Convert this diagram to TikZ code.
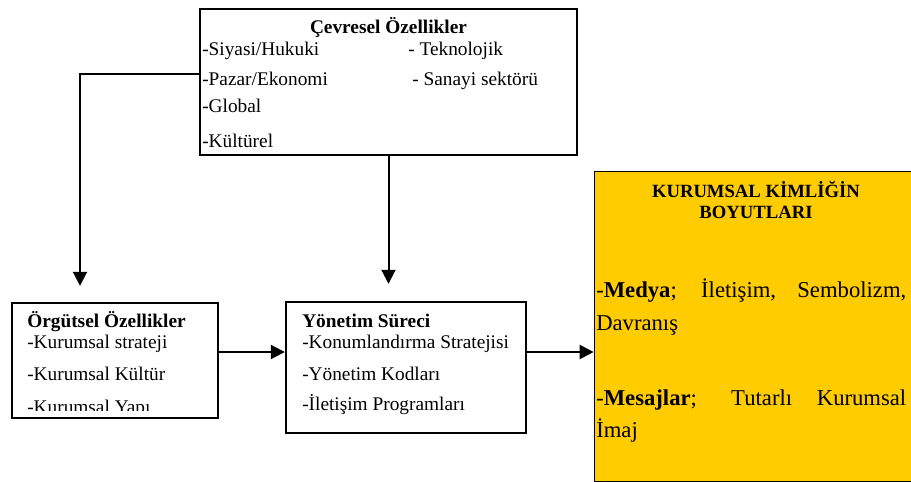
\documentclass[tikz,border=0pt]{standalone}
\usepackage{fontspec}
\setmainfont{Liberation Serif}
\usetikzlibrary{arrows.meta}
\definecolor{sari}{RGB}{255,204,0}
\tikzset{
  kutu/.style={draw, line width=1.8pt, inner sep=0pt},
  yazi/.style={inner sep=0pt, anchor=base west, font=\fontsize{14.5}{17}\selectfont},
  baslik/.style={yazi, font=\fontsize{14.5}{17}\selectfont\bfseries},
  govde/.style={yazi, font=\fontsize{17}{20}\selectfont},
  ok/.style={line width=1.5pt, -{Triangle[length=10.5pt,width=10.5pt]}},
}
\begin{document}
\begin{tikzpicture}[x=0.75pt,y=-0.75pt]
\useasboundingbox (0,0) rectangle (911,482);
% Kutular
\node[kutu, line width=2.2pt, minimum width=282.75pt, minimum height=109.5pt] (cevre) at (388.5,82) {};
\node[kutu, minimum width=154.5pt, minimum height=86.25pt] (orgut) at (115,360.5) {};
\node[kutu, minimum width=180pt, minimum height=98.25pt] (yonetim) at (406,367.5) {};
\node[kutu, fill=sari, line width=0.5pt, minimum width=244.5pt, minimum height=232.5pt] (kimlik) at (757,326) {};

% Cevresel ozellikler
\node[baslik, anchor=base] (cevreB) at (388.5,33) {Çevresel Özellikler};
\node[yazi] (c1) at (202,55) {-Siyasi/Hukuki};
\node[yazi] (c2) at (408,55) {- Teknolojik};
\node[yazi] (c3) at (202,85) {-Pazar/Ekonomi};
\node[yazi] (c4) at (412,85) {- Sanayi sektörü};
\node[yazi] (c5) at (202,112) {-Global};
\node[yazi] (c6) at (202,147) {-Kültürel};

% Orgutsel ozellikler
\node[baslik] (orgutB) at (27,327) {Örgütsel Özellikler};
\node[yazi] (o1) at (27,348) {-Kurumsal strateji};
\node[yazi] (o2) at (27,380) {-Kurumsal Kültür};
\begin{scope}
  \clip (12,303) rectangle (218,410);
  \node[yazi] (o3) at (27,413) {-Kurumsal Yapı};
\end{scope}

% Yonetim sureci
\node[baslik] (yonetimB) at (302,327) {Yönetim Süreci};
\node[yazi] (y1) at (302,348) {-Konumlandırma Stratejisi};
\node[yazi] (y2) at (302,380) {-Yönetim Kodları};
\node[yazi] (y3) at (302,410) {-İletişim Programları};

% Kurumsal kimlik
\node[baslik, anchor=base, font=\fontsize{14}{16}\selectfont\bfseries] (kimlikB1) at (756,197) {KURUMSAL KİMLİĞİN};
\node[baslik, anchor=base, font=\fontsize{14}{16}\selectfont\bfseries] (kimlikB2) at (756,218) {BOYUTLARI};
\node[govde] (m1) at (596,297) {\makebox[232.5pt][s]{-\textbf{Medya}; İletişim, Sembolizm,}};
\node[govde] (m2) at (596,330) {Davranış};
\node[govde] (m3) at (596,405) {\makebox[232.5pt][s]{-\textbf{Mesajlar}; Tutarlı Kurumsal}};
\node[govde] (m4) at (596,437) {İmaj};

% Oklar
\draw[ok, shorten >=12pt] ([yshift=6pt]cevre.west) -| ([xshift=-26.25pt]orgut.north);
\draw[ok, shorten >=12.75pt] (cevre.south) -- (cevre.south |- yonetim.north);
\coordinate (okY) at ([yshift=6.375pt]orgut.east);
\draw[ok] (okY) -- (okY -| yonetim.west);
\draw[ok] (okY -| yonetim.east) -- (okY -| kimlik.west);
\end{tikzpicture}
\end{document}
